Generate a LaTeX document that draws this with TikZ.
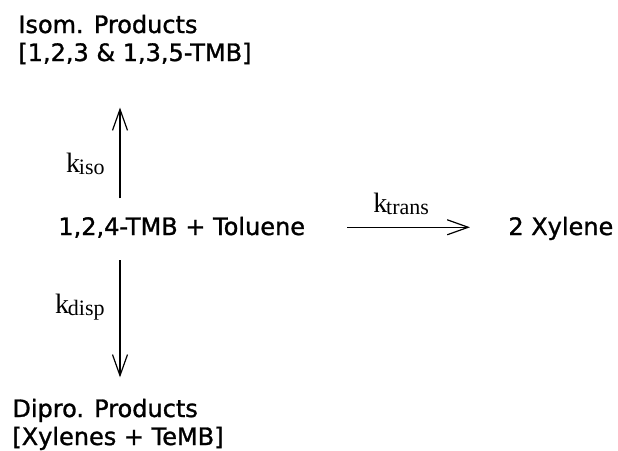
\documentclass[tikz,border=0pt]{standalone}
\usepackage{fontspec}
\setmainfont{DejaVu Sans}[FakeBold=1.2]
\newfontfamily\ratefont{Liberation Serif}
\usetikzlibrary{arrows.meta}
\newcommand{\rate}[1]{{\ratefont\fontsize{14}{14}\selectfont k\kern-0.6pt\raisebox{-1pt}{\fontsize{11}{11}\selectfont #1}}}

\begin{document}
\begin{tikzpicture}[
      x=0.5pt, y=-0.5pt,
      species/.style={inner sep=0pt, anchor=base west, align=left,
                      font=\fontsize{12}{14}\selectfont},
      rate/.style={inner sep=0pt},
      arr/.style={-{Straight Barb[length=10.5pt, width=7.5pt]}, line width=0.6pt},
    ]
    \useasboundingbox (0,0) rectangle (618,451);

    % Species (base = last line)
    \node[species] (tmb)  at (58,235)  {1,2,4-TMB + Toluene};
    \node[species] (xyl)  at (508,235) {2 Xylene};
    \node[species] (isom) at (18,61)   {Isom. Products\\{}[1,2,3 \& 1,3,5-TMB]};
    \node[species] (dipr) at (12,445)  {Dipro. Products\\{}[Xylenes + TeMB]};

    % column of the vertical arrows
    \coordinate (stem) at (120,0);

    % Arrows
    \draw[arr, shorten <=9pt, shorten >=21.5pt]
      (tmb.north -| stem) -- (isom.south -| stem);
    \draw[arr, shorten <=11pt, shorten >=10.5pt]
      (tmb.south -| stem) -- (dipr.north -| stem);
    \draw[arr, shorten <=21pt, shorten >=19pt]
      (tmb.east) -- (tmb.east -| xyl.west);

    % Rate constants
    \node[rate, anchor=base east] (kiso)   at (105,172) {\rate{iso}};
    \node[rate, anchor=base east] (kdisp)  at (105,313) {\rate{disp}};
    \node[rate, anchor=base west] (ktrans) at (373,212) {\rate{trans}};
  \end{tikzpicture}
\end{document}
